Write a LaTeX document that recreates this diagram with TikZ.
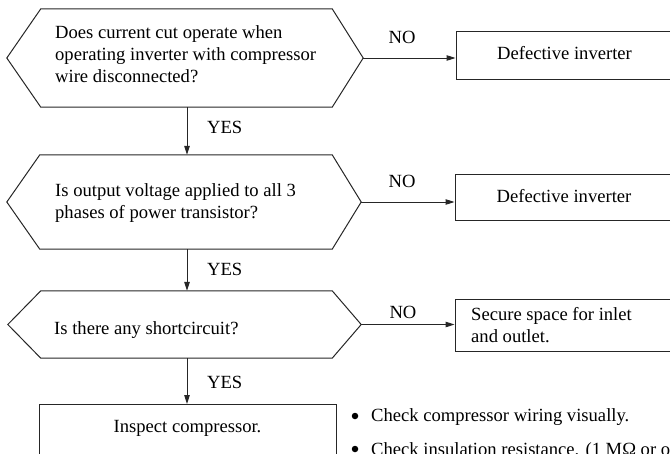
\documentclass[tikz,border=0pt]{standalone}
\usepackage{fontspec}
\setmainfont{Liberation Serif}
\usetikzlibrary{arrows.meta}
\newcommand\hexpath[3]{%
  \draw[lin] (#1.west) -- ([xshift=#2]#1.north west) -- ([xshift=-#3]#1.north east)
    -- (#1.east) -- ([xshift=-#3]#1.south east) -- ([xshift=#2]#1.south west) -- cycle;}
\begin{document}
\begin{tikzpicture}[x=1pt,y=-1pt,
  every node/.style={font=\fontsize{18.6}{22}\selectfont, inner sep=0pt, text=black},
  lin/.style={draw=black!85, line width=1pt},
  hexbox/.style={draw=none, rectangle},
  frame/.style={lin, rectangle},
  arr/.style={lin, -{Triangle[length=9pt,width=5.5pt]}},
  txt/.style={anchor=base west, align=left},
  lbl/.style={anchor=base},
  dot/.style={circle, fill=black, minimum size=6.5pt}]
\useasboundingbox (0,0) rectangle (670,453);
\clip (0,0) rectangle (670,453);

% decision shapes
\node[hexbox, minimum width=356pt, minimum height=98pt] (h1) at (185,58) {};
\node[hexbox, minimum width=354pt, minimum height=94pt] (h2) at (184,202) {};
\node[hexbox, minimum width=353pt, minimum height=67pt] (h3) at (184.5,324.5) {};
\hexpath{h1}{34pt}{31pt}
\hexpath{h2}{33pt}{29pt}
\hexpath{h3}{33pt}{29pt}

\node[txt] (t1) at (55,82) {Does current cut operate when\\operating inverter with compressor\\wire disconnected?};
\node[txt] (t2) at (55,218) {Is output voltage applied to all 3\\phases of power transistor?};
\node[txt] (t3) at (54,334) {Is there any shortcircuit?};

% result boxes
\node[frame, minimum width=217pt, minimum height=48pt] (b1) at (564.5,55) {};
\node[lbl] (t6) at (564.5,59) {Defective inverter};
\node[frame, minimum width=218pt, minimum height=46pt] (b2) at (564,197) {};
\node[lbl] (t7) at (564,202) {Defective inverter};
\node[frame, minimum width=218pt, minimum height=52pt] (b3) at (564,325) {};
\node[txt] (t4) at (471,342) {Secure space for inlet\\and outlet.};
\node[frame, anchor=north, minimum width=297pt, minimum height=110pt] (b4) at (187.5,404) {};
\node[lbl] (t5) at (187.5,432) {Inspect compressor.};

% bullet notes
\node[dot] (d1) at (355,416) {};
\node[txt] (n1) at (371,421) {Check compressor wiring visually.};
\node[dot] (d2) at (355,449) {};
\node[txt] (n2) at (371,455) {Check insulation resistance. (1 MΩ or over)};

% connectors
\draw[arr] (h1.east) -- (h1.east -| b1.west);
\draw[arr] (h2.east) -- (h2.east -| b2.west);
\draw[arr] (h3.east) -- (h3.east -| b3.west);
\draw[arr] ([xshift=2pt]h1.south) -- ([xshift=2pt]h1.south |- h2.north);
\draw[arr] ([xshift=3pt]h2.south) -- ([xshift=3pt]h2.south |- h3.north);
\draw[arr] ([xshift=2.5pt]h3.south) -- ([xshift=2.5pt]h3.south |- b4.north);

% labels
\node[lbl] (no1) at (402,43) {NO};
\node[lbl] (no2) at (402,187) {NO};
\node[lbl] (no3) at (403,318) {NO};
\node[anchor=base west] (y1) at (207,133) {YES};
\node[anchor=base west] (y2) at (207,275) {YES};
\node[anchor=base west] (y3) at (207,388) {YES};
\end{tikzpicture}
\end{document}
